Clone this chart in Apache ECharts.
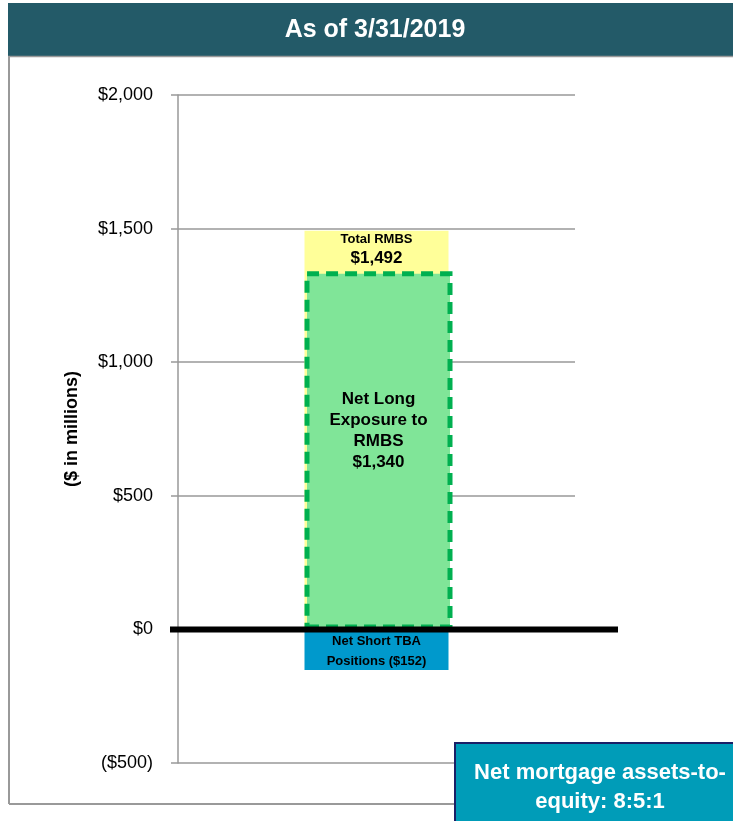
<!DOCTYPE html>
<html>
<head>
<meta charset="utf-8">
<script src="https://cdn.jsdelivr.net/npm/echarts@6/dist/echarts.min.js"></script>
<style>
  html, body { margin: 0; padding: 0; background: #fff; }
  #main { width: 733px; height: 821px; }
</style>
</head>
<body>
<div id="main"></div>
<script>
const categories = ['As of 3/31/2019'];
const totalRmbs = [1492];
const netLong = [1340];
const netShortTba = [-152];
const yTicks = { min: -500, max: 2000, interval: 500 };

const narrow = '"Liberation Sans Narrow", "Liberation Sans", Arial, sans-serif';
const money = v => (v < 0 ? '($' + Math.abs(v).toLocaleString('en-US') + ')' : '$' + v.toLocaleString('en-US'));

const chartDom = document.getElementById('main');
const chart = echarts.init(chartDom);

chart.setOption({
  animation: false,
  grid: { left: 178, right: 158, top: 95, bottom: 58 },
  xAxis: {
    type: 'category',
    data: categories,
    axisLine: { show: false },
    axisTick: { show: false },
    axisLabel: { show: false }
  },
  yAxis: {
    type: 'value',
    min: yTicks.min,
    max: yTicks.max,
    interval: yTicks.interval,
    name: '($ in millions)',
    nameLocation: 'middle',
    nameGap: 97,
    nameRotate: 90,
    nameTextStyle: { fontFamily: 'Liberation Sans, Arial', fontWeight: 'bold', fontSize: 18, color: '#000' },
    axisLine: { show: true, lineStyle: { color: '#999', width: 1.5 } },
    axisTick: { show: true, length: 7, lineStyle: { color: '#999', width: 1.5 } },
    axisLabel: {
      margin: 25,
      fontFamily: 'Liberation Sans, Arial',
      fontSize: 18,
      color: '#000',
      formatter: money
    },
    splitLine: { lineStyle: { color: '#999', width: 1.5 } }
  },
  series: [
    {
      name: 'Total RMBS',
      type: 'bar',
      data: totalRmbs,
      barWidth: 144,
      itemStyle: { color: '#FFFF99' },
      label: {
        show: true,
        position: 'insideTop',
        distance: 0,
        formatter: p => '{a|Total RMBS}\n{b|' + money(p.value) + '}',
        rich: {
          a: { fontFamily: narrow, fontWeight: 'bold', fontSize: 13, color: '#000', lineHeight: 17 },
          b: { fontFamily: narrow, fontWeight: 'bold', fontSize: 17, color: '#000', lineHeight: 21 }
        }
      },
      z: 1
    },
    {
      name: 'Net Long Exposure to RMBS',
      type: 'bar',
      data: netLong,
      barWidth: 148,
      barGap: '-100%',
      itemStyle: {
        color: '#80E598',
        borderColor: '#00B050',
        borderWidth: 5,
        borderType: [12, 7]
      },
      label: {
        show: true,
        position: 'inside',
        offset: [0, -20],
        fontFamily: narrow,
        fontWeight: 'bold',
        fontSize: 17,
        lineHeight: 21,
        color: '#000',
        formatter: p => 'Net Long\nExposure to\nRMBS\n' + money(p.value)
      },
      z: 2
    },
    {
      name: 'Net Short TBA Positions',
      type: 'bar',
      data: netShortTba,
      barWidth: 144,
      barGap: '-100%',
      itemStyle: { color: '#0099CC' },
      label: {
        show: true,
        position: 'inside',
        offset: [0, 2],
        fontFamily: narrow,
        fontWeight: 'bold',
        fontSize: 13,
        lineHeight: 20,
        color: '#000',
        formatter: p => 'Net Short TBA\nPositions ' + money(p.value)
      },
      z: 3
    }
  ]
});

// zero line drawn through the axis scale
const zeroY = chart.convertToPixel({ yAxisIndex: 0 }, 0);

chart.setOption({
  graphic: [
    { type: 'rect', shape: { x: 8, y: 3, width: 725, height: 53 }, style: { fill: '#235A68' }, z: 10 },
    { type: 'line', shape: { x1: 8, y1: 56.5, x2: 733, y2: 56.5 }, style: { stroke: '#999', lineWidth: 1.5 }, z: 10 },
    {
      type: 'text', x: 375, y: 30,
      style: { text: categories[0], fill: '#fff', font: 'bold 25px ' + narrow, align: 'center', verticalAlign: 'middle' },
      z: 11
    },
    { type: 'line', shape: { x1: 9, y1: 56, x2: 9, y2: 804 }, style: { stroke: '#999', lineWidth: 2 }, z: 10 },
    { type: 'line', shape: { x1: 9, y1: 804, x2: 456, y2: 804 }, style: { stroke: '#999', lineWidth: 2 }, z: 10 },
    { type: 'line', shape: { x1: 170, y1: zeroY, x2: 618, y2: zeroY }, style: { stroke: '#000', lineWidth: 6 }, z: 10 },
    {
      type: 'rect', shape: { x: 455, y: 743, width: 290, height: 90 },
      style: { fill: '#009CB8', stroke: '#1A1F66', lineWidth: 2 }, z: 12
    },
    {
      type: 'text', x: 600, y: 787,
      style: {
        text: 'Net mortgage assets-to-\nequity: 8:5:1',
        fill: '#fff', font: 'bold 22px ' + narrow, lineHeight: 29,
        align: 'center', verticalAlign: 'middle'
      },
      z: 13
    }
  ]
});
</script>
</body>
</html>
